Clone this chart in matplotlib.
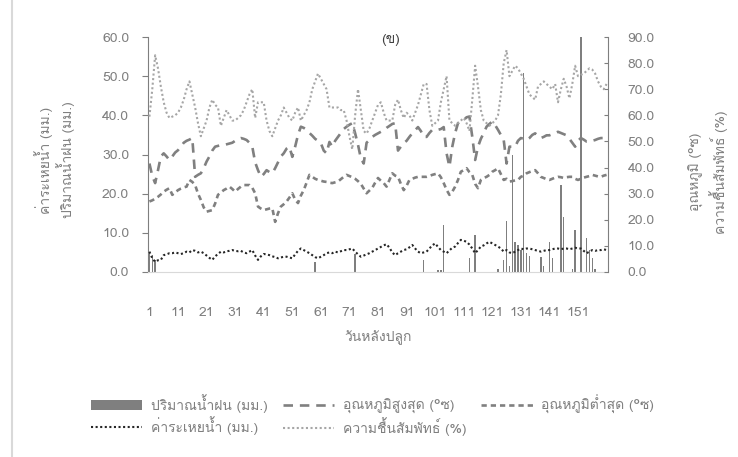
import numpy as np
import matplotlib
matplotlib.use('Agg')
import matplotlib.pyplot as plt
from matplotlib import font_manager
from matplotlib.ft2font import FT2Font
from matplotlib.lines import Line2D
from matplotlib.patches import Patch
from matplotlib.ticker import FormatStrFormatter


# find an installed font that has Thai glyphs
def thai_family():
    for f in font_manager.fontManager.ttflist:
        try:
            if 0x0E01 in FT2Font(f.fname).get_charmap():
                return f.name
        except Exception:
            pass
    return 'DejaVu Sans'


plt.rcParams['font.family'] = [thai_family(), 'DejaVu Sans']

# days after planting
days = np.arange(1, 162)
xtick_days = list(range(1, 152, 10))

# rainfall (mm), only the days with rain
rain_days = [1, 2, 3, 59, 73, 97, 102, 103, 104, 113, 115, 123, 125, 126, 127,
             128, 129, 130, 131, 132, 133, 134, 138, 139, 141, 142, 145, 146,
             149, 150, 152, 154, 155, 156, 157]
rain_mm = [4.8, 4.3, 3.0, 2.5, 4.5, 3.1, 0.4, 0.6, 12.0, 3.6, 9.4, 0.8, 3.0, 12.9, 1.5,
           29.9, 7.7, 6.9, 5.6, 50.7, 4.8, 4.0, 3.8, 1.5, 7.6, 3.6, 22.2, 14.1,
           0.8, 10.8, 65.0, 8.6, 5.6, 3.6, 0.8]

# max temperature (C)
tmax = [27.7, 24.5, 22.7, 26.0, 29.5, 30.3, 29.5, 28.6, 29.5, 30.5,
        31.1, 32.0, 33.0, 33.5, 33.8, 34.2, 24.3, 24.8, 25.2, 26.5,
        28.2, 29.5, 31.0, 32.0, 32.2, 32.4, 32.4, 32.6, 32.8, 33.0,
        33.5, 34.0, 34.2, 34.0, 33.7, 33.0, 32.0, 28.0, 26.0, 24.3,
        25.0, 26.0, 25.5, 25.2, 26.5, 28.0, 29.5, 30.3, 31.5, 32.0,
        29.4, 32.0, 35.0, 37.1, 36.8, 36.3, 35.5, 34.8, 34.0, 33.5,
        32.9, 31.0, 30.3, 33.2, 32.0, 33.5, 34.5, 35.5, 36.5, 37.1,
        37.6, 38.0, 35.4, 32.5, 29.0, 27.7, 33.0, 33.7, 34.5, 35.0,
        35.4, 35.8, 36.2, 36.8, 37.3, 37.8, 38.0, 31.0, 32.0, 32.9,
        33.5, 34.5, 35.4, 36.2, 37.0, 36.0, 34.5, 34.5, 35.5, 36.3,
        36.3, 36.3, 36.5, 37.0, 30.3, 26.9, 32.0, 35.5, 38.0, 38.5,
        38.8, 39.5, 39.7, 34.5, 28.6, 32.0, 34.0, 35.5, 37.1, 37.8,
        38.4, 37.5, 36.3, 35.0, 33.7, 27.7, 32.0, 32.0, 32.0, 33.5,
        34.2, 34.0, 33.7, 34.2, 35.0, 35.4, 34.8, 34.2, 34.5, 34.9,
        34.9, 35.2, 35.5, 35.8, 35.5, 35.2, 34.9, 34.0, 33.0, 32.0,
        33.5, 34.2, 33.8, 33.3, 33.3, 33.5, 33.7, 34.0, 34.2, 34.2,
        34.2]

# min temperature (C)
tmin = [18.0, 18.3, 18.7, 19.2, 19.8, 20.5, 21.0, 21.4, 19.7, 20.3,
        20.9, 21.3, 21.6, 21.8, 23.5, 23.0, 22.2, 20.0, 18.4, 16.5,
        15.4, 15.6, 15.8, 17.5, 19.7, 20.3, 20.9, 21.3, 21.8, 21.2,
        20.5, 21.2, 21.8, 22.2, 22.2, 22.2, 21.5, 20.1, 16.7, 16.2,
        15.8, 16.0, 16.2, 16.3, 12.8, 15.0, 16.7, 17.3, 18.0, 19.0,
        20.1, 18.5, 17.6, 19.5, 20.9, 22.8, 24.8, 24.3, 23.8, 23.5,
        23.3, 23.1, 23.0, 22.8, 22.7, 22.9, 23.1, 23.7, 24.3, 24.8,
        24.5, 24.2, 23.8, 23.2, 22.5, 21.3, 20.1, 20.8, 21.5, 22.8,
        24.0, 23.3, 22.7, 21.8, 23.5, 25.2, 24.6, 24.3, 22.5, 20.9,
        22.0, 23.5, 23.8, 24.1, 24.3, 24.3, 24.3, 24.3, 24.5, 24.8,
        25.0, 25.2, 24.2, 22.7, 21.0, 19.7, 20.5, 21.8, 23.5, 25.6,
        26.0, 26.5, 25.5, 24.8, 22.5, 21.4, 23.5, 24.0, 24.3, 24.8,
        25.6, 26.0, 26.5, 25.0, 23.5, 23.8, 23.1, 23.2, 23.4, 23.5,
        24.3, 24.6, 25.2, 25.5, 25.8, 26.0, 25.2, 24.3, 24.0, 23.7,
        23.5, 23.8, 24.1, 24.3, 24.2, 24.0, 24.2, 24.3, 24.3, 23.8,
        23.5, 23.8, 24.1, 24.3, 24.5, 24.8, 24.6, 24.4, 24.3, 24.6,
        24.8]

# evaporation (mm)
evap = [5.2, 3.5, 2.6, 3.0, 3.1, 4.3, 4.5, 4.8, 4.8, 5.0,
        4.8, 4.6, 4.8, 5.2, 5.0, 5.6, 5.4, 5.0, 5.2, 4.8,
        4.2, 3.6, 3.1, 4.0, 4.6, 5.2, 5.0, 5.3, 5.4, 5.6,
        5.4, 5.3, 5.4, 5.0, 4.8, 5.2, 5.6, 4.2, 3.1, 4.0,
        4.6, 4.5, 4.3, 4.0, 3.8, 3.5, 3.7, 3.9, 3.9, 3.7,
        3.5, 4.5, 5.4, 6.0, 5.6, 5.2, 4.8, 4.3, 3.8, 3.5,
        3.9, 4.3, 4.8, 5.0, 4.8, 5.2, 5.0, 5.3, 5.6, 5.6,
        5.8, 6.0, 5.2, 4.5, 3.9, 4.2, 4.5, 4.8, 5.2, 5.6,
        6.0, 6.4, 6.8, 7.1, 6.2, 5.0, 4.3, 4.8, 5.2, 5.6,
        5.8, 6.3, 6.9, 6.0, 5.2, 4.8, 5.0, 5.2, 6.0, 6.8,
        7.3, 6.4, 5.6, 5.2, 4.8, 5.5, 6.2, 6.5, 7.4, 8.2,
        8.0, 7.7, 7.0, 6.0, 4.8, 5.6, 6.5, 6.8, 7.3, 7.7,
        7.3, 6.9, 6.5, 6.0, 5.2, 5.6, 5.0, 4.8, 5.2, 5.6,
        6.0, 5.8, 6.0, 6.0, 5.8, 5.6, 5.4, 5.2, 5.4, 5.6,
        5.6, 5.8, 6.0, 6.0, 5.8, 6.0, 6.0, 5.8, 6.0, 6.2,
        6.0, 6.0, 5.4, 4.8, 5.2, 5.6, 5.4, 5.6, 5.6, 5.8,
        5.6]

# relative humidity (%)
rh = [59.5, 70, 83, 78, 71, 65, 61, 59, 59.5, 60,
      61, 63, 66, 70, 73, 68, 63, 57, 52, 55,
      58, 63, 66, 64, 63, 56, 59, 62, 60, 58,
      58, 59, 60, 62, 65, 68, 70, 59, 65, 65,
      65, 58, 54, 52, 55, 58, 60, 63, 61, 59,
      58, 61, 63, 58, 60, 62, 65, 70, 73, 76,
      74, 72, 70, 63, 63, 63, 63, 62, 62, 58,
      52, 47, 60, 70, 62, 54, 53, 55, 58, 61,
      64, 65, 61, 58, 58, 58, 64, 66, 62, 59,
      61, 60, 58, 61, 64, 68, 72, 72, 62, 56,
      57, 58, 65, 70, 75, 58, 57, 56, 57, 58,
      59, 57, 54, 66, 79, 71, 62, 58, 57, 56,
      57, 58, 60, 68, 80, 85, 75, 77, 79, 78,
      76, 74, 71, 68, 67, 66, 71, 72, 73, 72,
      71, 70, 72, 65, 70, 74, 71, 66.5, 72, 79,
      75, 75.5, 76, 77, 78, 77.5, 76, 73, 71, 70,
      72]

rain = np.zeros(len(days))
rain[np.array(rain_days) - 1] = rain_mm

txt = '#7f7f7f'
W, H = 738, 457

fig = plt.figure(figsize=(W / 100, H / 100), dpi=100)
ax = fig.add_axes([148 / W, 1 - 272 / H, 460 / W, 235 / H])

ax.bar(days, rain, width=0.5, color='#7f7f7f', zorder=1)
l_max, = ax.plot(days, tmax, color='#808080', lw=1.9, dashes=(3.6, 2.6), zorder=2)
l_min, = ax.plot(days, tmin, color='#808080', lw=1.9, dashes=(2.0, 1.5), zorder=2)
l_evap, = ax.plot(days, evap, color='#262626', lw=1.5, dashes=(1, 1.2), zorder=3)

ax.set_xlim(0.5, 161.5)
ax.set_ylim(0, 60)
ax.set_yticks(np.arange(0, 61, 10))
ax.yaxis.set_major_formatter(FormatStrFormatter('%.1f'))
ax.set_xticks(xtick_days)
ax.tick_params(axis='y', direction='out', length=4.5, color='#7f7f7f',
               labelcolor=txt, labelsize=10, pad=9)
ax.tick_params(axis='x', length=0, labelcolor=txt, labelsize=10, pad=25)
for s in ['top', 'right']:
    ax.spines[s].set_visible(False)
ax.spines['left'].set_color('#7f7f7f')
ax.spines['bottom'].set_color('#d9d9d9')

# humidity on the secondary axis
ax2 = ax.twinx()
l_rh, = ax2.plot(days, rh, color='#a6a6a6', lw=1.5, dashes=(1, 1.2))
ax2.set_ylim(0, 90)
ax2.set_yticks(np.arange(0, 91, 10))
ax2.yaxis.set_major_formatter(FormatStrFormatter('%.1f'))
ax2.tick_params(axis='y', direction='in', length=3, color='#7f7f7f',
                labelcolor=txt, labelsize=10, pad=14)
for s in ['top', 'left', 'bottom']:
    ax2.spines[s].set_visible(False)
ax2.spines['right'].set_color('#7f7f7f')

# titles
fig.text(391 / W, 1 - 40 / H, '(ข)', ha='center', va='center', fontsize=10, color='#404040')
fig.text(378 / W, 1 - 338 / H, 'วันหลังปลูก', ha='center', va='center', fontsize=10, color=txt)
fig.text(44 / W, 1 - 160 / H, 'ค่าระเหยน้ำ (มม.)', rotation=90, ha='center', va='center',
         fontsize=10, color=txt)
fig.text(66 / W, 1 - 160 / H, 'ปริมาณน้ำฝน (มม.)', rotation=90, ha='center', va='center',
         fontsize=10, color=txt)
fig.text(696 / W, 1 - 172 / H, 'อุณหภูมิ (°ซ)', rotation=90, ha='center', va='center',
         fontsize=10, color=txt)
fig.text(719 / W, 1 - 172 / H, 'ความชื้นสัมพัทธ์ (%)', rotation=90, ha='center', va='center',
         fontsize=10, color=txt)

# legend, two rows
h_rain = Patch(facecolor='#7f7f7f', edgecolor='none')
handles = [h_rain, l_evap, l_max, l_rh, l_min]
labels = ['ปริมาณน้ำฝน (มม.)', 'ค่าระเหยน้ำ (มม.)', 'อุณหภูมิสูงสุด (°ซ)',
          'ความชื้นสัมพัทธ์ (%)', 'อุณหภูมิต่ำสุด (°ซ)']
fig.legend(handles, labels, ncol=3, loc='center left', bbox_to_anchor=(91 / W, 1 - 415 / H),
           frameon=False, fontsize=10, labelcolor=txt, handlelength=3.7,
           handletextpad=0.6, columnspacing=1.1, labelspacing=0.2,
           borderpad=0, borderaxespad=0)

# thin frame line on the left edge
fig.add_artist(Line2D([12 / W, 12 / W], [0, 1], color='#d9d9d9', lw=1.5))

plt.savefig('out.png', dpi=100)
plt.close()
